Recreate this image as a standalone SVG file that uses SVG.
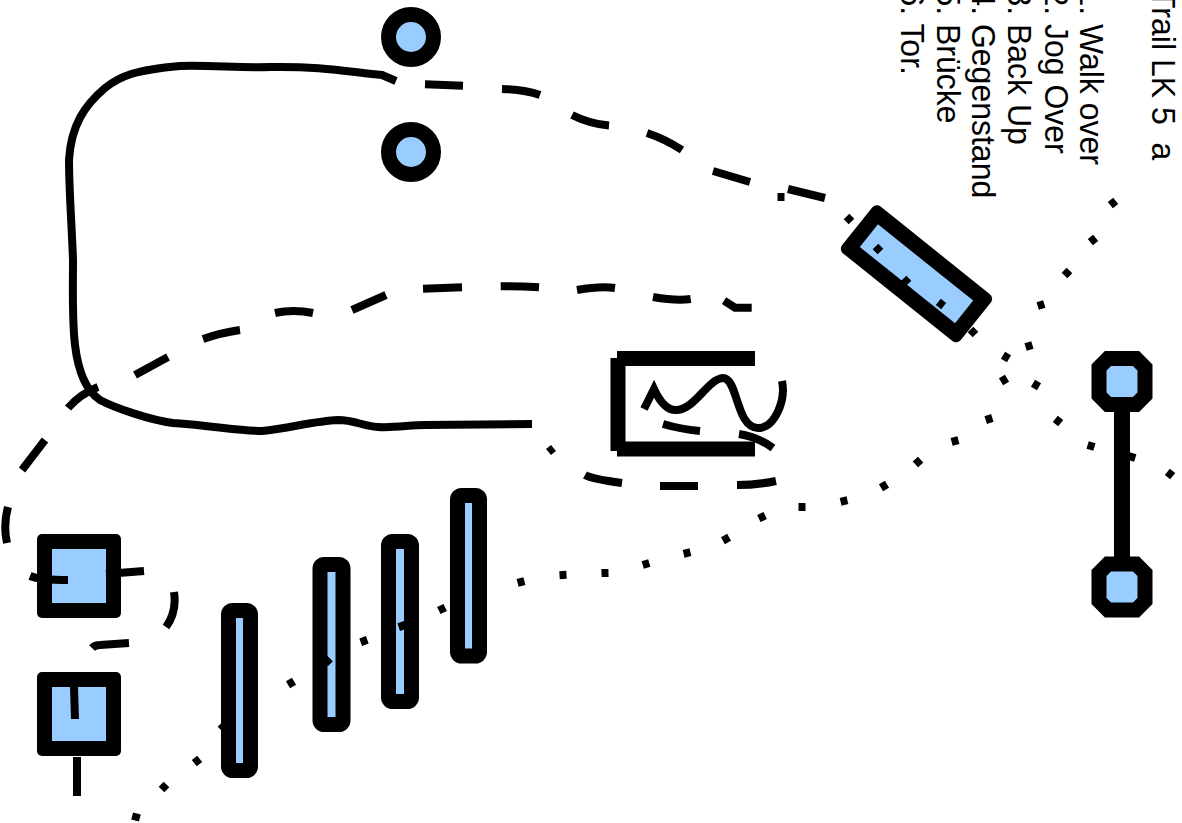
<svg xmlns="http://www.w3.org/2000/svg" width="1182" height="823" viewBox="0 0 1182 823">
<style>
.n{fill:#99ccff;stroke:#000;stroke-width:15;stroke-linejoin:round}
.o{fill:#99ccff;stroke:#000;stroke-width:15;stroke-linejoin:miter}
.k{fill:#000}
.f{fill:#99ccff}
.c{fill:none;stroke:#000;stroke-width:8;stroke-linecap:butt}
.b{fill:none;stroke:#000;stroke-width:15}
text{font-family:"Liberation Sans",Arial,sans-serif;font-size:32px;fill:#000;white-space:pre}
</style>
<rect width="1182" height="823" fill="#fff"/>
<g id="label-title"><text transform="translate(1152,-11) rotate(90) scale(1,1.04)">Trail LK 5  a</text></g>
<g id="label-list">
<text transform="translate(1080,-11.6) rotate(90) scale(1,1.04)">1. Walk over</text>
<text transform="translate(1045,-11.6) rotate(90) scale(1,1.04)">2. Jog Over</text>
<text transform="translate(1008,-11.6) rotate(90) scale(1,1.04)">3. Back Up</text>
<text transform="translate(972,-11.6) rotate(90) scale(1,1.04)">4. Gegenstand</text>
<text transform="translate(937,-11.6) rotate(90) scale(1,1.04)">5. Brücke</text>
<text transform="translate(901,-11.6) rotate(90) scale(1,1.04)">6. Tor.</text>
</g>
<g id="post-1"><circle class="n" cx="411" cy="37" r="22.5"/></g>
<g id="post-2"><circle class="n" cx="411" cy="152" r="22.5"/></g>
<g id="square-1"><rect class="k" x="37" y="534" width="84" height="84" rx="5"/><rect class="f" x="52" y="549" width="54" height="54"/></g>
<g id="square-2"><rect class="k" x="37" y="672" width="84" height="84" rx="5"/><rect class="f" x="52" y="687" width="54" height="54"/></g>
<g id="bar-1"><rect class="n" x="228.500" y="610.500" width="22" height="160" rx="4"/></g>
<g id="bar-2"><rect class="n" x="320" y="564.500" width="23" height="160" rx="4"/></g>
<g id="bar-3"><rect class="n" x="388.500" y="541.500" width="23" height="160" rx="4"/></g>
<g id="bar-4"><rect class="n" x="457.500" y="495.500" width="22" height="160.500" rx="4"/></g>
<g id="tilted-bar" transform="translate(916.500,273.800) rotate(38.700)"><rect class="k" x="-76" y="-30" width="152" height="60" rx="6"/><rect class="f" x="-61" y="-14.500" width="122" height="29"/></g>
<g id="seesaw">
<path d="M1122 381V587" fill="none" stroke="#000" stroke-width="16"/>
<polygon class="o" points="1108,358.500 1136,358.500 1145,367.500 1145,395.500 1136,404.500 1108,404.500 1099,395.500 1099,367.500"/>
<polygon class="o" points="1108,564 1136,564 1145,573 1145,601 1136,610 1108,610 1099,601 1099,573"/>
</g>
<g id="bracket">
<path class="b" d="M617 358.500H755M617 449H755M618 358V451"/>
</g>
<g id="connectors">
<path class="c" d="M532 424L425 425C410 425 395 428 378 427C362 426 355 420 338 420C315 421 290 428 262 431C240 431 215 426 173 423C150 420 115 408 100 400C85 390 78 370 75 345C72 320 73 290 73 260C72 230 69 190 69 160C71 125 85 105 105 88C120 76 135 70 180 66C210 65 240 68 270 67C320 66 350 72 382 75L396 81"/>
<path class="c" d="M644 409L654 389C660 402 668 411 677 410C695 409 708 379 723 378C738 378 736 428 758 428C775 428 786 400 782 381"/>
<path class="c" d="M425 84.300L463 85.700M502 89Q525 89.500 540 95M572 115Q590 124 609 125.500M647 133Q665 139 682 150M713 171L750 182M788 189L825 198"/>
<path class="c" d="M751.700 307.700L735 307.700L724 300.700M690.700 299Q676 301 653 297M615 288Q600 286 577 290M539 287.300Q520 286 500.700 286.300M462 287.300L423 288.700M386 295L352 310M313 313Q293 309 275 313M240 330Q220 333 203 339M168 357L135 375M98 387Q80 394 68 408M45 440L22 470M8 507Q3 525 7 543M30 576Q40 580 68 580M106 574L144 571M174 592Q177 612 166 627M129 643L100 645Q95 645 92 648M74 686L75 719M77 757V796"/>
<path class="c" d="M663 424Q680 429 700 431M739 434Q758 437 773 448M585 475Q592 479 622 483M660 486H698M737 485Q757 485 776 481"/>
<path class="c" d="M135.100 820.400l1.800-6.800M161.500 789.500l5-5M194.300 763.200l5.400-4.400M220.500 729.500l5-5M288 684.800l6-3.600M325 663.500l5-5M360.700 642.200l6.600-2.400M398.700 627.100l6.600-2.200M438.800 610.500l6.400-3M517.600 582.900l6.800-1.800M559.500 575.200l7-.4M601.500 573.100l7-.2M642.700 565l6.600-2M683.600 553.800l6.800-1.600M722.900 540.700l6.200-3.400M758.800 518.500l6.400-3M798.500 507h7M840.600 501.800l6.800-1.600M881 487.800l6-3.600M915.400 464.400l5.200-4.800M951.600 441.900l6.800-1.800M985.700 420.100l6.600-2.200M1001 381.800l6-3.600M1025.600 347l6.800-2M1037.700 306l6.600-2M1064.500 275.500l5-5M1090.300 242.200l5.400-4.400M1110.300 205.200l5.400-4.400"/>
<path class="c" d="M548.500 452l5-4M777.500 197h7M846.500 216.500l5 5M875.500 246.500l5 5M903.500 278.500l5 5M938.300 301.800l5.400 4.400M970.500 329.500l5 5M1003 355.200l6 3.600M1033 383.200l6 3.600M1055.300 418.800l5.400 4.400M1087.600 445l6.800 2M1128.700 456l6.600 2M1167.300 471.800l5.400 4.400"/>
</g>
</svg>
